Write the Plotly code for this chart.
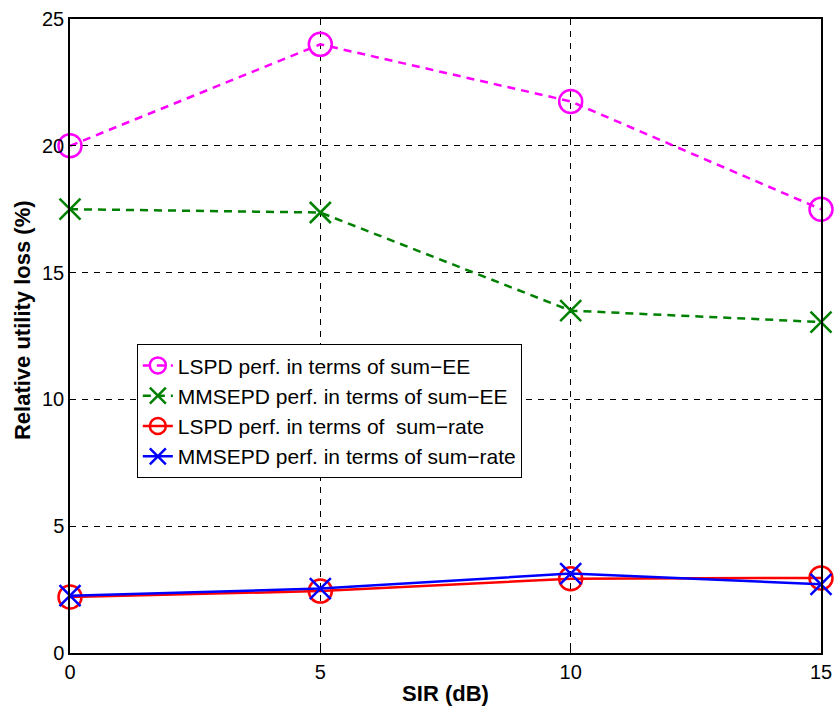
import plotly.graph_objects as go

sir = [0, 5, 10, 15]
lspd_ee = [20.0, 24.0, 21.75, 17.5]
mmsepd_ee = [17.5, 17.37, 13.5, 13.05]
lspd_rate = [2.21, 2.44, 2.93, 2.96]
mmsepd_rate = [2.26, 2.54, 3.13, 2.71]

names = ["LSPD perf. in terms of sum\u2212EE",
         "MMSEPD perf. in terms of sum\u2212EE",
         "LSPD perf. in terms of  sum\u2212rate",
         "MMSEPD perf. in terms of sum\u2212rate"]
y_title = "Relative utility loss (%)"
x_title = "SIR (dB)"

FONT = "Liberation Sans, Arial, Helvetica"

fig = go.Figure()
fig.add_trace(go.Scatter(x=sir, y=lspd_ee, name=names[0], mode="lines+markers",
                         line=dict(color="#FF00FF", width=2.5, dash="8px,6px"),
                         marker=dict(symbol="circle-open", size=23, line=dict(width=2.5, color="#FF00FF")),
                         cliponaxis=False))
fig.add_trace(go.Scatter(x=sir, y=mmsepd_ee, name=names[1], mode="lines+markers",
                         line=dict(color="#008000", width=2.5, dash="8px,6px"),
                         marker=dict(symbol="x-thin-open", size=21, line=dict(width=2.5, color="#008000")),
                         cliponaxis=False))
fig.add_trace(go.Scatter(x=sir, y=lspd_rate, name=names[2], mode="lines+markers",
                         line=dict(color="#FF0000", width=2.5),
                         marker=dict(symbol="circle-open", size=23, line=dict(width=2.5, color="#FF0000")),
                         cliponaxis=False))
fig.add_trace(go.Scatter(x=sir, y=mmsepd_rate, name=names[3], mode="lines+markers",
                         line=dict(color="#0000FF", width=2.5),
                         marker=dict(symbol="x-thin-open", size=21, line=dict(width=2.5, color="#0000FF")),
                         cliponaxis=False))

axis_common = dict(showline=True, linecolor="black", linewidth=1.5, mirror="ticks",
                   ticks="inside", ticklen=6, tickcolor="black",
                   showgrid=True, gridcolor="black", gridwidth=1, griddash="6px,6px",
                   zeroline=False, automargin=False,
                   tickfont=dict(family=FONT, size=20, color="black"))

fig.update_xaxes(range=[0, 15], tickvals=[0, 5, 10, 15], ticktext=["0", "5", "10", "15"],
                 title=dict(text="<b>" + x_title + "</b>", font=dict(family=FONT, size=22, color="black"),
                            standoff=4),
                 **axis_common)
fig.update_yaxes(range=[0, 25], tickvals=[0, 5, 10, 15, 20, 25], ticktext=["0", "5", "10", "15", "20", "25"],
                 **axis_common)

fig.add_annotation(text="<b>" + y_title + "</b>", xref="paper", yref="paper",
                   x=-0.064, y=0.525, xanchor="center", yanchor="middle", textangle=-90,
                   showarrow=False, font=dict(family=FONT, size=22, color="black"))

fig.update_layout(width=835, height=709, paper_bgcolor="white", plot_bgcolor="white",
                  margin=dict(l=70, r=14, t=19, b=56, autoexpand=False),
                  font=dict(family=FONT, color="black"),
                  legend=dict(x=0.089, y=0.487, xanchor="left", yanchor="top",
                              bgcolor="white", bordercolor="black", borderwidth=1,
                              font=dict(family=FONT, size=21, color="black"),
                              itemwidth=30, tracegroupgap=0))

fig.write_html("out.html", config={"displayModeBar": False},
               post_script="document.body.style.margin='0';document.body.style.overflow='hidden';")
